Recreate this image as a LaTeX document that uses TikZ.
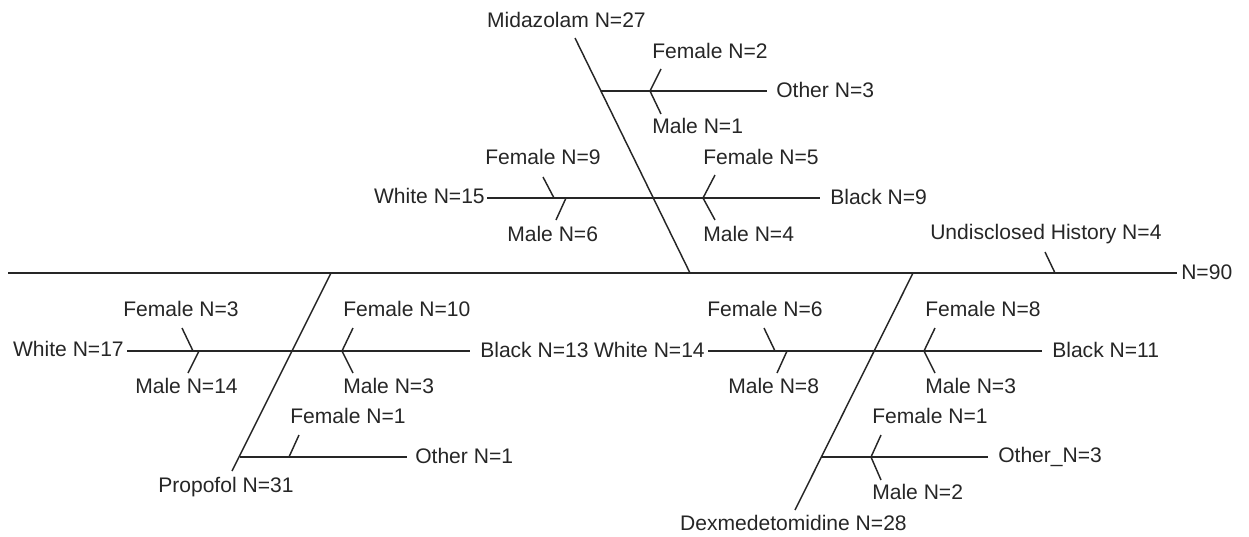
\documentclass[tikz,border=0pt]{standalone}
\usepackage{fontspec}
\setmainfont{Liberation Sans}
\begin{document}
\begin{tikzpicture}[x=0.75pt,y=-0.75pt,
  ln/.style={line width=1.1pt,draw=black!85},
  lbl/.style={inner sep=0pt,text height=0.72em,text depth=0pt,text=black!85,yshift=-1.5pt,font=\fontsize{15.8}{18}\selectfont},
  lw/.style={lbl,anchor=west},
  le/.style={lbl,anchor=east}]
\useasboundingbox (0,0) rectangle (1249,536);
% ---- spine
\coordinate (s0) at (8,273);
\coordinate (s1) at (1177,273);
\draw[ln] (s0) -- (s1);
\node[lw] (n90) at (1181,273) {N=90};
% ---- Midazolam
\coordinate (m0) at (575,38);
\coordinate (m1) at (690,273);
\draw[ln] (m0) -- (m1);
\node[le] (mid) at (646,21) {Midazolam N=27};
\coordinate (mo0) at (601,91);
\coordinate (mo1) at (767,91);
\coordinate (moj) at (650,91);
\coordinate (mof) at (661,69);
\coordinate (mom) at (661,114);
\draw[ln] (mo0) -- (mo1);
\draw[ln] (mof) -- (moj) -- (mom);
\node[lw] (mofl) at (652,52) {Female N=2};
\node[lw] (moml) at (652,127) {Male N=1};
\node[lw] (mool) at (776,91) {Other N=3};
\coordinate (mr0) at (487,198);
\coordinate (mr1) at (820,198);
\draw[ln] (mr0) -- (mr1);
\node[le] (mwl) at (485,197) {White N=15};
\node[lw] (mbl) at (830,198) {Black N=9};
\coordinate (mwf0) at (543,177); \coordinate (mwf1) at (554,198);
\coordinate (mwm0) at (566,198); \coordinate (mwm1) at (556,220);
\draw[ln] (mwf0) -- (mwf1);
\draw[ln] (mwm0) -- (mwm1);
\coordinate (mbj) at (703,198); \coordinate (mbf) at (715,175); \coordinate (mbm) at (715,220);
\draw[ln] (mbf) -- (mbj) -- (mbm);
\node[lw] (mwfl) at (485,158) {Female N=9};
\node[lw] (mwml) at (507,235) {Male N=6};
\node[lw] (mbfl) at (703,158) {Female N=5};
\node[lw] (mbml) at (703,235) {Male N=4};
% ---- Undisclosed
\coordinate (u0) at (1045,252); \coordinate (u1) at (1055,273);
\draw[ln] (u0) -- (u1);
\node[lw] (ul) at (930,233) {Undisclosed History N=4};
% ---- Propofol
\coordinate (p0) at (232,471);
\coordinate (p1) at (331,273);
\draw[ln] (p0) -- (p1);
\node[lw] (pl) at (158,486) {Propofol N=31};
\coordinate (pr0) at (127,351);
\coordinate (pr1) at (470,351);
\draw[ln] (pr0) -- (pr1);
\node[le] (pwl) at (124,350) {White N=17};
\node[lw] (pbl) at (480,351) {Black N=13};
\coordinate (pwf0) at (182,328); \coordinate (pwf1) at (193,351);
\coordinate (pwm0) at (199,351); \coordinate (pwm1) at (188,373);
\draw[ln] (pwf0) -- (pwf1);
\draw[ln] (pwm0) -- (pwm1);
\coordinate (pbj) at (342,351); \coordinate (pbf) at (353,328); \coordinate (pbm) at (353,373);
\draw[ln] (pbf) -- (pbj) -- (pbm);
\node[lw] (pwfl) at (123,310) {Female N=3};
\node[lw] (pwml) at (135,387) {Male N=14};
\node[lw] (pbfl) at (343,310) {Female N=10};
\node[lw] (pbml) at (343,387) {Male N=3};
\coordinate (po0) at (240,457);
\coordinate (po1) at (407,457);
\draw[ln] (po0) -- (po1);
\coordinate (pof0) at (289,457); \coordinate (pof1) at (299,435);
\draw[ln] (pof0) -- (pof1);
\node[lw] (pofl) at (290,417) {Female N=1};
\node[lw] (pool) at (415,457) {Other N=1};
% ---- Dexmedetomidine
\coordinate (d0) at (795,510);
\coordinate (d1) at (913,273);
\draw[ln] (d0) -- (d1);
\node[le] (dl) at (907,524) {Dexmedetomidine N=28};
\coordinate (dr0) at (708,351);
\coordinate (dr1) at (1042,351);
\draw[ln] (dr0) -- (dr1);
\node[le] (dwl) at (705,351) {White N=14};
\node[lw] (dbl) at (1052,351) {Black N=11};
\coordinate (dwf0) at (764,328); \coordinate (dwf1) at (775,351);
\coordinate (dwm0) at (787,351); \coordinate (dwm1) at (777,373);
\draw[ln] (dwf0) -- (dwf1);
\draw[ln] (dwm0) -- (dwm1);
\coordinate (dbj) at (924,351); \coordinate (dbf) at (935,328); \coordinate (dbm) at (935,373);
\draw[ln] (dbf) -- (dbj) -- (dbm);
\node[lw] (dwfl) at (707,310) {Female N=6};
\node[lw] (dwml) at (728,387) {Male N=8};
\node[lw] (dbfl) at (925,310) {Female N=8};
\node[lw] (dbml) at (925,387) {Male N=3};
\coordinate (do0) at (822,457);
\coordinate (do1) at (988,457);
\draw[ln] (do0) -- (do1);
\coordinate (doj) at (871,457); \coordinate (dof) at (881,435); \coordinate (dom) at (881,480);
\draw[ln] (dof) -- (doj) -- (dom);
\node[lw] (dofl) at (872,417) {Female N=1};
\node[lw] (doml) at (872,493) {Male N=2};
\node[lw] (dool) at (998,456) {Other\_N=3};
\end{tikzpicture}
\end{document}
